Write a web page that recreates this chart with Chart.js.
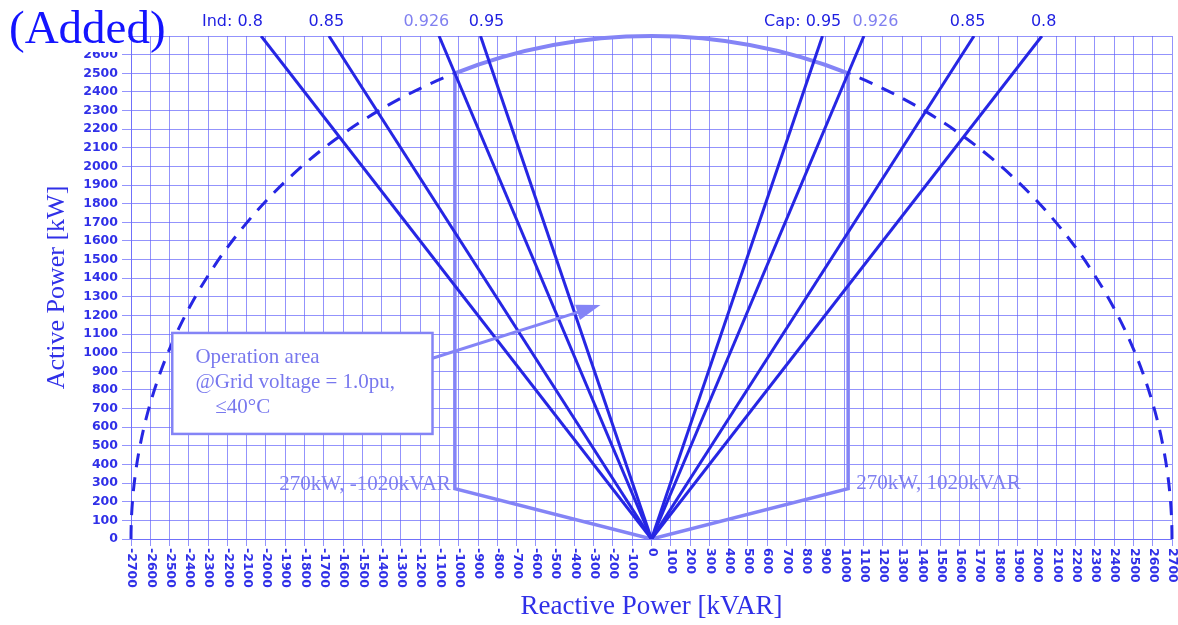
<!DOCTYPE html>
<html><head><meta charset="utf-8">
<script src="https://cdn.jsdelivr.net/npm/chart.js@4/dist/chart.umd.min.js"></script>
<style>html,body{margin:0;padding:0;background:#fff}</style>
</head><body>
<canvas id="c" width="1178" height="625" style="width:1178px;height:625px;display:block"></canvas>
<script>
// ---- data ----
const indPF = ['Ind: 0.8', '0.85', '0.926', '0.95'];
const indTopQ = [-2025, -1673, -1102, -887];   // kVAR where each PF line meets P = 2700 kW
const capPF = ['Cap: 0.95', '0.926', '0.85', '0.8'];
const capTopQ = [887, 1102, 1673, 2025];
const topP = 2700;
const areaQ = [-1020, -1020, 0, 1020, 1020];  // operation area boundary
const areaP = [2500, 270, 0, 270, 2500];
const limitS = 2700;                           // kVA limit circle radius
const xMin = -2700, xMax = 2700, yMin = 0, yMax = 2700, step = 100;
const pfLabelQ = [-2174, -1687, -1168, -856, 784, 1162, 1640, 2034];
const cornerLabels = ['270kW, -1020kVAR', '270kW, 1020kVAR'];
const noteLines = ['Operation area', '@Grid voltage = 1.0pu,', '\u226440\u00B0C'];

// ---- styles ----
const DARK = 'rgb(38,38,228)';
const LIGHT = 'rgb(132,132,246)';
const TEXT = 'rgb(48,48,232)';
const GRID = 'rgba(96,96,250,0.68)';

const datasets = [];
indTopQ.forEach((q, i) => datasets.push({ label: 'Ind ' + indPF[i], data: [{x: 0, y: 0}, {x: q, y: topP}] }));
capTopQ.forEach((q, i) => datasets.push({ label: 'Cap ' + capPF[i], data: [{x: 0, y: 0}, {x: q, y: topP}] }));
datasets.forEach(d => Object.assign(d, {showLine: true, borderColor: DARK, borderWidth: 3, pointRadius: 0, fill: false}));
datasets.push({
  label: 'Operation area', data: areaQ.map((q, i) => ({x: q, y: areaP[i]})),
  showLine: true, borderColor: LIGHT, borderWidth: 3.5, pointRadius: 0, fill: false, borderJoinStyle: 'miter'
});

const deco = {
  id: 'deco',
  beforeDatasetsDraw(chart) {
    const {ctx, scales: {x, y}} = chart;
    const cx = x.getPixelForValue(0), cy = y.getPixelForValue(0);
    const rx = x.getPixelForValue(limitS) - cx, ry = cy - y.getPixelForValue(limitS);
    const b = Math.acos(areaQ[4] / limitS);
    ctx.save();
    ctx.lineWidth = 3; ctx.strokeStyle = DARK; ctx.setLineDash([14, 10]);
    ctx.beginPath(); ctx.ellipse(cx, cy, rx, ry, 0, Math.PI, Math.PI + b); ctx.stroke();
    ctx.beginPath(); ctx.ellipse(cx, cy, rx, ry, 0, 2 * Math.PI, 2 * Math.PI - b, true); ctx.stroke();
    ctx.setLineDash([]); ctx.lineWidth = 4; ctx.strokeStyle = LIGHT;
    ctx.beginPath(); ctx.ellipse(cx, cy, rx, ry, 0, Math.PI + b, 2 * Math.PI - b); ctx.stroke();
    ctx.restore();
  },
  afterDraw(chart) {
    const {ctx, scales: {x, y}} = chart;
    ctx.save();
    // x tick labels, rotated clockwise
    ctx.fillStyle = TEXT; ctx.font = 'bold 12.5px "DejaVu Sans"';
    ctx.textAlign = 'left'; ctx.textBaseline = 'middle';
    x.ticks.forEach(t => {
      const px = x.getPixelForValue(t.value);
      ctx.save(); ctx.translate(px + 0.5, y.bottom + 9); ctx.rotate(Math.PI / 2);
      ctx.fillText(String(t.value), 0, 0); ctx.restore();
    });
    // annotation box
    const bl = x.getPixelForValue(-2486), br = x.getPixelForValue(-1136);
    const bt = y.getPixelForValue(1106), bb = y.getPixelForValue(564);
    ctx.fillStyle = '#fff'; ctx.fillRect(bl, bt, br - bl, bb - bt);
    ctx.lineWidth = 2.5; ctx.strokeStyle = LIGHT; ctx.strokeRect(bl, bt, br - bl, bb - bt);
    ctx.fillStyle = 'rgb(120,120,238)'; ctx.font = '21px "Liberation Serif"';
    ctx.textAlign = 'left'; ctx.textBaseline = 'middle';
    ctx.fillText(noteLines[0], x.getPixelForValue(-2366), bt + 25);
    ctx.fillText(noteLines[1], x.getPixelForValue(-2366), bt + 50);
    ctx.fillText(noteLines[2], x.getPixelForValue(-2263), bt + 75);
    // arrow
    const ax0 = br, ay0 = y.getPixelForValue(970);
    const ax1 = x.getPixelForValue(-265), ay1 = y.getPixelForValue(1256);
    const ang = Math.atan2(ay1 - ay0, ax1 - ax0);
    ctx.strokeStyle = LIGHT; ctx.fillStyle = LIGHT; ctx.lineWidth = 3;
    ctx.beginPath(); ctx.moveTo(ax0, ay0);
    ctx.lineTo(ax1 - 20 * Math.cos(ang), ay1 - 20 * Math.sin(ang)); ctx.stroke();
    ctx.beginPath(); ctx.moveTo(ax1, ay1);
    ctx.lineTo(ax1 - 24 * Math.cos(ang) + 8 * Math.sin(ang), ay1 - 24 * Math.sin(ang) - 8 * Math.cos(ang));
    ctx.lineTo(ax1 - 24 * Math.cos(ang) - 8 * Math.sin(ang), ay1 - 24 * Math.sin(ang) + 8 * Math.cos(ang));
    ctx.closePath(); ctx.fill();
    // corner labels
    ctx.fillStyle = 'rgb(128,128,240)'; ctx.font = '21px "Liberation Serif"'; ctx.textBaseline = 'middle';
    ctx.textAlign = 'right';
    ctx.fillText(cornerLabels[0], x.getPixelForValue(areaQ[1]) - 4, y.getPixelForValue(areaP[1]) - 4);
    ctx.textAlign = 'left';
    ctx.fillText(cornerLabels[1], x.getPixelForValue(areaQ[3]) + 8, y.getPixelForValue(areaP[3]) - 5);
    // power-factor labels above plot
    const pfLabels = indPF.concat(capPF);
    ctx.font = '16px "DejaVu Sans"'; ctx.textAlign = 'center'; ctx.textBaseline = 'middle';
    pfLabels.forEach((s, i) => {
      ctx.fillStyle = s.indexOf('0.926') >= 0 ? 'rgb(128,128,240)' : 'rgb(30,30,225)';
      ctx.fillText(s, x.getPixelForValue(pfLabelQ[i]), 22);
    });
    // (Added)
    ctx.fillStyle = '#fff'; ctx.fillRect(0, 0, 128, 52);
    ctx.fillStyle = 'rgb(20,20,255)'; ctx.font = '47px "Liberation Serif"';
    ctx.textAlign = 'left'; ctx.textBaseline = 'alphabetic';
    ctx.fillText('(Added)', 9, 43);
    ctx.restore();
  }
};

new Chart(document.getElementById('c'), {
  type: 'scatter',
  data: {datasets},
  plugins: [deco],
  options: {
    responsive: false, animation: false, devicePixelRatio: 1,
    layout: {padding: {top: 36, right: 6, left: 0, bottom: 0}},
    plugins: {legend: {display: false}, tooltip: {enabled: false}},
    elements: {line: {tension: 0}},
    scales: {
      x: {
        type: 'linear', min: xMin, max: xMax,
        ticks: {stepSize: step, display: false, autoSkip: false},
        grid: {color: GRID, lineWidth: 1, tickLength: 7, tickColor: GRID},
        border: {color: GRID},
        title: {display: true, text: 'Reactive Power [kVAR]', color: TEXT,
          font: {family: 'Liberation Serif', size: 27}, padding: {bottom: 2, top: 0}},
        afterFit(s) { s.height = 86; }
      },
      y: {
        type: 'linear', min: yMin, max: yMax,
        ticks: {stepSize: step, autoSkip: false, color: TEXT, padding: 4,
          font: {family: 'DejaVu Sans', size: 12.5, weight: 'bold'},
          callback: v => (v >= yMax ? '' : v)},
        grid: {color: GRID, lineWidth: 1, tickLength: 9, tickColor: GRID},
        border: {color: GRID},
        title: {display: true, text: 'Active Power [kW]', color: TEXT,
          font: {family: 'Liberation Serif', size: 26}, padding: {top: 42, bottom: 0}},
        afterFit(s) { s.width = 131; }
      }
    }
  }
});
</script>
</body></html>
